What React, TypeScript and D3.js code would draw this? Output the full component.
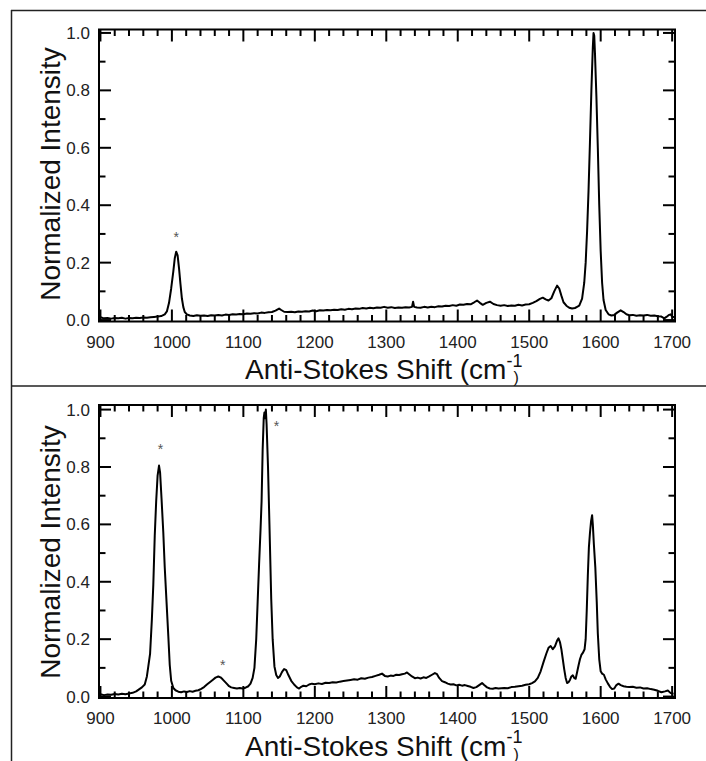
import React from "react";
import * as d3 from "d3";

// ---------- data ----------
const topShift: number[] = [
  900, 905, 910, 915, 920, 925, 930, 935, 940, 945, 950, 955, 960, 965, 970, 975, 980, 985, 990, 993,
  996, 999, 1002, 1004, 1006, 1008, 1010, 1012, 1014, 1016, 1018, 1021, 1025, 1030, 1035, 1040, 1045, 1050, 1055, 1060,
  1065, 1070, 1075, 1080, 1085, 1090, 1095, 1100, 1105, 1110, 1115, 1120, 1125, 1130, 1135, 1140, 1145, 1150, 1153, 1157,
  1162, 1167, 1172, 1177, 1182, 1187, 1192, 1197, 1202, 1207, 1212, 1217, 1222, 1227, 1232, 1237, 1242, 1247, 1252, 1257,
  1262, 1267, 1272, 1277, 1282, 1287, 1292, 1297, 1302, 1307, 1312, 1317, 1322, 1327, 1332, 1336, 1337.5, 1339, 1343, 1348,
  1353, 1358, 1363, 1368, 1373, 1378, 1383, 1388, 1393, 1398, 1403, 1408, 1413, 1418, 1423, 1427, 1431, 1435, 1440, 1445,
  1450, 1455, 1460, 1465, 1470, 1475, 1480, 1485, 1490, 1495, 1500, 1505, 1510, 1515, 1519, 1523, 1527, 1531, 1535, 1539,
  1542, 1545, 1548, 1552, 1556, 1560, 1564, 1567, 1570, 1574, 1577, 1579, 1581, 1583, 1585, 1587, 1589, 1590, 1591, 1592,
  1594, 1596, 1598, 1600, 1602, 1604, 1607, 1611, 1615, 1619, 1623, 1628, 1632, 1636, 1640, 1645, 1650, 1655, 1660, 1665,
  1670, 1675, 1680, 1685, 1689, 1692, 1695, 1698, 1700, 1703,
];
const topIntensity: number[] = [
  0.010, 0.006, 0.007, 0.005, 0.007, 0.006, 0.008, 0.005, 0.007, 0.006, 0.008, 0.007, 0.009, 0.008, 0.010, 0.011, 0.012, 0.014, 0.020, 0.030,
  0.060, 0.110, 0.170, 0.215, 0.238, 0.225, 0.180, 0.125, 0.075, 0.045, 0.028, 0.020, 0.016, 0.014, 0.017, 0.015, 0.016, 0.014, 0.017, 0.016,
  0.018, 0.016, 0.019, 0.018, 0.020, 0.019, 0.021, 0.020, 0.023, 0.022, 0.024, 0.023, 0.026, 0.025, 0.027, 0.028, 0.033, 0.040, 0.035, 0.029,
  0.028, 0.029, 0.027, 0.030, 0.029, 0.031, 0.030, 0.033, 0.031, 0.034, 0.033, 0.035, 0.034, 0.036, 0.035, 0.038, 0.036, 0.039, 0.038, 0.040,
  0.039, 0.042, 0.040, 0.043, 0.041, 0.044, 0.043, 0.046, 0.043, 0.045, 0.042, 0.044, 0.043, 0.045, 0.044, 0.046, 0.064, 0.046, 0.044, 0.043,
  0.046, 0.044, 0.046, 0.045, 0.048, 0.047, 0.050, 0.049, 0.052, 0.050, 0.054, 0.053, 0.056, 0.055, 0.062, 0.068, 0.060, 0.053, 0.060, 0.064,
  0.056, 0.052, 0.050, 0.052, 0.049, 0.051, 0.050, 0.053, 0.051, 0.054, 0.055, 0.060, 0.066, 0.074, 0.078, 0.072, 0.068, 0.076, 0.100, 0.120,
  0.110, 0.085, 0.062, 0.050, 0.043, 0.040, 0.042, 0.046, 0.050, 0.075, 0.130, 0.200, 0.310, 0.450, 0.620, 0.800, 0.950, 1.000, 0.990, 0.930,
  0.780, 0.600, 0.400, 0.240, 0.130, 0.070, 0.035, 0.020, 0.016, 0.018, 0.026, 0.034, 0.028, 0.020, 0.017, 0.018, 0.015, 0.017, 0.016, 0.018,
  0.015, 0.016, 0.013, 0.012, 0.006, 0.011, 0.017, 0.020, 0.012, 0.010,
];

const bottomShift: number[] = [
  900, 905, 910, 915, 920, 925, 930, 935, 940, 945, 950, 954, 958, 962, 965, 967, 969.5, 972, 974, 976,
  978, 980, 982, 983.5, 985.5, 988, 990, 992.5, 995, 997, 999, 1002, 1005, 1009, 1013, 1017, 1021, 1025, 1029, 1033,
  1037, 1041, 1045, 1049, 1053, 1057, 1061, 1065, 1068, 1071, 1074, 1077, 1080, 1083, 1087, 1091, 1095, 1099, 1103, 1107,
  1110, 1113, 1115.5, 1118, 1120, 1122, 1124, 1125.5, 1127, 1128.5, 1129.5, 1130.5, 1131.5, 1132.5, 1134.5, 1136.5, 1139, 1141, 1143.5, 1146,
  1148.5, 1151, 1154, 1157, 1160, 1163, 1167, 1171, 1175, 1178, 1181, 1184, 1188, 1192, 1196, 1200, 1205, 1210, 1215, 1220,
  1225, 1230, 1235, 1240, 1245, 1250, 1255, 1260, 1265, 1270, 1275, 1280, 1285, 1290, 1294, 1298, 1302, 1306, 1310, 1314,
  1318, 1322, 1326, 1329, 1332, 1336, 1340, 1344, 1348, 1352, 1356, 1360, 1364, 1368, 1371, 1374, 1378, 1382, 1386, 1390,
  1394, 1398, 1402, 1406, 1410, 1414, 1418, 1422, 1426, 1430, 1434, 1437, 1441, 1445, 1449, 1453, 1457, 1461, 1465, 1470,
  1475, 1480, 1485, 1490, 1495, 1500, 1504, 1508, 1512, 1516, 1520, 1524, 1527, 1530, 1533, 1536, 1539, 1541, 1543, 1545,
  1547, 1549, 1551, 1553, 1555, 1557, 1559, 1561, 1563, 1565, 1567, 1569, 1571, 1573, 1575, 1577.5, 1579, 1580.5, 1582, 1583.5,
  1585, 1586.5, 1588, 1589, 1590.5, 1592.5, 1594.5, 1596, 1598, 1600, 1602, 1604.5, 1607, 1610, 1613, 1616, 1619, 1622, 1625, 1628,
  1632, 1636, 1640, 1645, 1650, 1655, 1660, 1665, 1670, 1675, 1680, 1685, 1690, 1694, 1698, 1702,
];
const bottomIntensity: number[] = [
  0.008, 0.005, 0.007, 0.006, 0.009, 0.007, 0.010, 0.008, 0.011, 0.013, 0.018, 0.025, 0.032, 0.042, 0.070, 0.105, 0.150, 0.270, 0.390, 0.560,
  0.680, 0.770, 0.805, 0.780, 0.690, 0.570, 0.450, 0.330, 0.210, 0.110, 0.055, 0.030, 0.022, 0.017, 0.015, 0.018, 0.016, 0.019, 0.017, 0.020,
  0.022, 0.027, 0.033, 0.042, 0.050, 0.058, 0.066, 0.070, 0.067, 0.060, 0.052, 0.044, 0.036, 0.032, 0.030, 0.028, 0.030, 0.028, 0.031, 0.036,
  0.045, 0.065, 0.100, 0.200, 0.330, 0.460, 0.580, 0.680, 0.860, 0.970, 0.990, 0.970, 1.000, 0.950, 0.800, 0.600, 0.340, 0.200, 0.105, 0.075,
  0.065, 0.070, 0.085, 0.096, 0.092, 0.075, 0.055, 0.042, 0.032, 0.028, 0.034, 0.038, 0.036, 0.042, 0.045, 0.043, 0.046, 0.044, 0.048, 0.047,
  0.050, 0.049, 0.052, 0.054, 0.056, 0.058, 0.060, 0.059, 0.064, 0.062, 0.066, 0.068, 0.072, 0.076, 0.080, 0.072, 0.070, 0.073, 0.072, 0.076,
  0.075, 0.078, 0.080, 0.084, 0.078, 0.070, 0.064, 0.066, 0.063, 0.067, 0.065, 0.070, 0.076, 0.082, 0.078, 0.065, 0.054, 0.050, 0.045, 0.042,
  0.043, 0.039, 0.041, 0.038, 0.040, 0.037, 0.034, 0.030, 0.033, 0.040, 0.047, 0.040, 0.032, 0.028, 0.027, 0.030, 0.028, 0.029, 0.030, 0.029,
  0.033, 0.034, 0.036, 0.038, 0.041, 0.043, 0.047, 0.053, 0.065, 0.088, 0.120, 0.150, 0.170, 0.176, 0.165, 0.175, 0.195, 0.203, 0.190, 0.165,
  0.130, 0.095, 0.065, 0.047, 0.050, 0.058, 0.070, 0.074, 0.065, 0.062, 0.085, 0.108, 0.130, 0.145, 0.152, 0.165, 0.200, 0.300, 0.420, 0.520,
  0.570, 0.610, 0.632, 0.600, 0.530, 0.450, 0.330, 0.220, 0.130, 0.088, 0.080, 0.076, 0.060, 0.046, 0.034, 0.026, 0.028, 0.040, 0.045, 0.040,
  0.036, 0.034, 0.033, 0.034, 0.031, 0.032, 0.028, 0.029, 0.026, 0.024, 0.020, 0.015, 0.018, 0.021, 0.012, 0.010,
];

// asterisk markers [shift, intensity]
const topStars: [number, number][] = [[1006, 0.3]];
const bottomStars: [number, number][] = [[984, 0.872], [1146.5, 0.953], [1071, 0.12]];

const xTickLabels: number[] = [900, 1000, 1100, 1200, 1300, 1400, 1500, 1600, 1700];
const yTickLabels: number[] = [0.0, 0.2, 0.4, 0.6, 0.8, 1.0];
const xTitle = "Anti-Stokes Shift (cm";
const xTitleSup = "-1";
const xTitleClose = ")";
const yTitle = "Normalized Intensity";

// ---------- layout ----------
const W = 706;
const H = 761;
const FONT = "'Liberation Sans', Arial, Helvetica, sans-serif";
const LEFT = 99;
const RIGHT = 675;

type PanelProps = {
  shift: number[];
  intensity: number[];
  stars: [number, number][];
  top: number;
  bottom: number;
  yMax: number;
  yLabelCenter: number;
};

function Panel({ shift, intensity, stars, top, bottom, yMax, yLabelCenter }: PanelProps) {
  const x = d3.scaleLinear().domain([898, 1704]).range([LEFT, RIGHT]);
  const y = d3.scaleLinear().domain([-0.005, yMax]).range([bottom, top]);
  const pts: [number, number][] = shift.map((s, i) => [s, intensity[i]]);
  const line = d3
    .line<[number, number]>()
    .x((d) => x(d[0]))
    .y((d) => y(d[1]));

  const xMinor = d3.range(900, 1701, 20);
  const yMinor = d3.range(0, 11, 1).map((k) => k / 10);
  const MAJ = 12;
  const MIN = 6.5;

  return (
    <g>
      {/* x ticks (bottom and top, inward) */}
      {xMinor.map((v) => {
        const major = v % 100 === 0;
        const len = major ? MAJ : MIN;
        return (
          <g key={"xt" + v}>
            <line x1={x(v)} x2={x(v)} y1={bottom} y2={bottom - len} stroke="#000" strokeWidth={2} />
            <line x1={x(v)} x2={x(v)} y1={top} y2={top + len} stroke="#000" strokeWidth={2} />
          </g>
        );
      })}
      {/* y ticks (left and right, inward) */}
      {yMinor.map((v, k) => {
        const major = k % 2 === 0;
        const len = major ? MAJ : MIN;
        return (
          <g key={"yt" + k}>
            <line x1={LEFT} x2={LEFT + len} y1={y(v)} y2={y(v)} stroke="#000" strokeWidth={2} />
            <line x1={RIGHT} x2={RIGHT - len} y1={y(v)} y2={y(v)} stroke="#000" strokeWidth={2} />
          </g>
        );
      })}
      {/* spectrum */}
      <path d={line(pts) || ""} fill="none" stroke="#000" strokeWidth={2} strokeLinejoin="round" />
      {/* frame */}
      <rect x={LEFT} y={top} width={RIGHT - LEFT} height={bottom - top} fill="none" stroke="#000" strokeWidth={2} />
      {/* x tick labels */}
      {xTickLabels.map((v) => (
        <text key={"xl" + v} x={x(v)} y={bottom + 26} textAnchor="middle" fontSize={17} fill="#222" fontFamily={FONT}>
          {v}
        </text>
      ))}
      {/* y tick labels */}
      {yTickLabels.map((v) => (
        <text key={"yl" + v} x={LEFT - 9} y={y(v) + 6} textAnchor="end" fontSize={17} fill="#222" fontFamily={FONT}>
          {v.toFixed(1)}
        </text>
      ))}
      {/* asterisks */}
      {stars.map(([s, v], i) => (
        <text key={"st" + i} x={x(s)} y={y(v) + 8} textAnchor="middle" fontSize={14} fill="#555" fontFamily={FONT}>
          *
        </text>
      ))}
      {/* x title */}
      <text x={245} y={bottom + 57.5} fontSize={28} fill="#111" fontFamily={FONT}>
        {xTitle}
        <tspan fontSize={18} dy={-12.5}>{xTitleSup}</tspan>
        <tspan fontSize={16} dx={-9} dy={16.5}>{xTitleClose}</tspan>
      </text>
      {/* y title */}
      <text
        transform={`translate(60, ${yLabelCenter}) rotate(-90)`}
        textAnchor="middle"
        fontSize={28}
        fill="#111"
        fontFamily={FONT}
      >
        {yTitle}
      </text>
    </g>
  );
}

export default function App() {
  return (
    <svg
      width={W}
      height={H}
      viewBox={`0 0 ${W} ${H}`}
      style={{ position: "absolute", left: 0, top: 0, background: "#fff" }}
    >
      <rect x={0} y={0} width={W} height={H} fill="#fff" />
      {/* outer table lines */}
      <line x1={11} x2={W} y1={10.5} y2={10.5} stroke="#222" strokeWidth={1.5} />
      <line x1={11.5} x2={11.5} y1={10} y2={H} stroke="#222" strokeWidth={1.5} />
      <line x1={11} x2={W} y1={386} y2={386} stroke="#222" strokeWidth={1.5} />
      <Panel
        shift={topShift}
        intensity={topIntensity}
        stars={topStars}
        top={29.5}
        bottom={321.5}
        yMax={1.012}
        yLabelCenter={174}
      />
      <Panel
        shift={bottomShift}
        intensity={bottomIntensity}
        stars={bottomStars}
        top={405}
        bottom={698}
        yMax={1.016}
        yLabelCenter={552}
      />
    </svg>
  );
}
